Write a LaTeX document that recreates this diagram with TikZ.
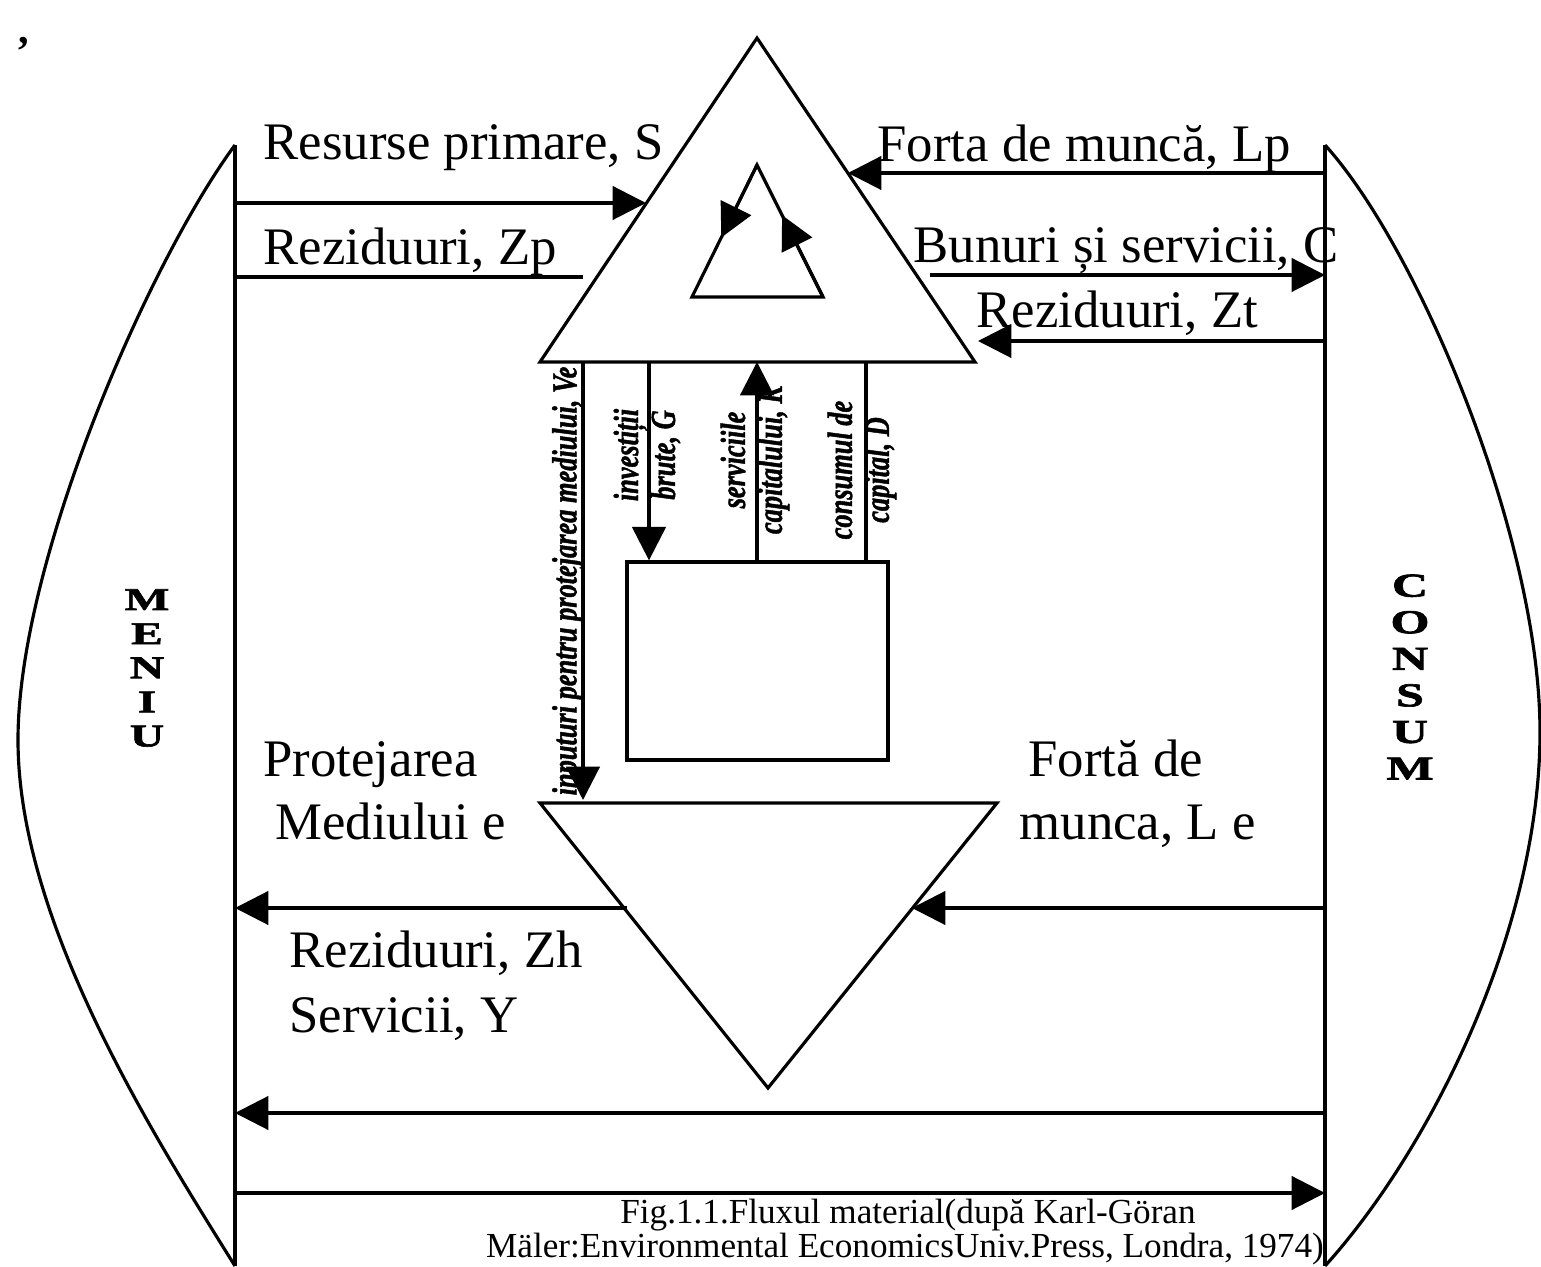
\documentclass[tikz,border=0pt]{standalone}
\usepackage{fontspec}
\setmainfont{Liberation Serif}
\newfontfamily\capfont[FakeStretch=0.75,FakeBold=1.2]{Liberation Serif}
\newfontfamily\sidefont[FakeStretch=1.5,FakeBold=2]{Liberation Serif}
\usetikzlibrary{arrows.meta,calc}

\tikzset{
  tip/.style={-{Triangle[length=9.5pt,width=9.5pt]}},
  lbl/.style={anchor=base west,inner sep=0pt,font=\fontsize{15}{18}\selectfont},
  vlbl/.style={rotate=90,align=center,inner sep=0pt,font=\capfont\bfseries\itshape\fontsize{10}{10.5}\selectfont},
  side/.style={align=center,inner sep=0pt},
  note/.style={anchor=base,inner sep=0pt,font=\fontsize{10}{11.5}\selectfont},
}

\begin{document}
\begin{tikzpicture}[x=0.01cm,y=-0.01cm,line width=0.9pt]
   \useasboundingbox (0,0) rectangle (1541,1267);

   \coordinate (MTop) at (235,145);
   \coordinate (MBot) at (235,1266);
   \coordinate (CTop) at (1325,145);
   \coordinate (CBot) at (1325,1266);

   \coordinate (PTop) at (757,38);
   \coordinate (PL) at (540,362);
   \coordinate (PR) at (975,362);

   \coordinate (KTop) at (757,165);
   \coordinate (KL) at (692,297);
   \coordinate (KR) at (823,297);

   \coordinate (HL) at (540,803);
   \coordinate (HR) at (997,803);
   \coordinate (HBot) at (768,1088);

   \node (Stock) at (757.5,661) [draw,minimum width=2.61cm,minimum height=1.98cm] {};

   \node (Meniu) at (147,668) [side,font=\sidefont\bfseries\fontsize{9}{9.7}\selectfont] {M\\E\\N\\I\\U};
   \node (Consum) at (1410,677) [side,font=\sidefont\bfseries\fontsize{9.5}{10.4}\selectfont] {C\\O\\N\\S\\U\\M};

   \node (Comma) at (24,44) [anchor=base,inner sep=0pt,font=\bfseries\fontsize{12}{14}\selectfont] {,};

   \draw (MTop) .. controls (150,260) and (18,560) .. (18,740) .. controls (18,920) and (150,1130) .. (MBot);
   \draw (CTop) .. controls (1420,250) and (1540,540) .. (1540,732) .. controls (1540,930) and (1430,1150) .. (CBot);
   \draw (MTop) -- (MBot);
   \draw (CTop) -- (CBot);

   \draw (PTop) -- (PL) -- (PR) -- cycle;
   \draw (KTop) -- (KL) -- (KR) -- cycle;
   \draw (HL) -- (HR) -- (HBot) -- cycle;
   \draw [tip] (KTop) -- ($(KTop)!0.55!(KL)$);
   \draw [tip] (KR) -- ($(KR)!0.62!(KTop)$);

   \coordinate (Ve) at (583,362);
   \coordinate (Ve1) at (583,800);
   \coordinate (G) at (649,362);
   \coordinate (K) at (757,362);
   \coordinate (D) at (866,362);
   \draw [tip] (Ve) -- (Ve1);
   \draw [tip] (G) -- (G |- Stock.north);
   \draw [tip] (K |- Stock.north) -- (K);
   \draw [] (D) -- (D |- Stock.north);

   \coordinate (S0) at (235,203);
   \coordinate (S1) at (646,203);
   \coordinate (Zp0) at (235,277);
   \coordinate (Zp1) at (583,277);
   \coordinate (Lp0) at (1325,173);
   \coordinate (Lp1) at (848,173);
   \coordinate (C0) at (930,275);
   \coordinate (C1) at (1325,275);
   \coordinate (Zt0) at (1325,341);
   \coordinate (Zt1) at (978,341);
   \coordinate (Zh0) at (627,908);
   \coordinate (Zh1) at (235,908);
   \coordinate (Le0) at (1325,908);
   \coordinate (Le1) at (912,908);
   \coordinate (Y0) at (1325,1113);
   \coordinate (Y1) at (235,1113);
   \coordinate (B0) at (235,1193);
   \coordinate (B1) at (1325,1193);

   \draw [tip] (S0) -- (S1);
   \draw [] (Zp0) -- (Zp1);
   \draw [tip] (Lp0) -- (Lp1);
   \draw [tip] (C0) -- (C1);
   \draw [tip] (Zt0) -- (Zt1);
   \draw [tip] (Zh0) -- (Zh1);
   \draw [tip] (Le0) -- (Le1);
   \draw [tip] (Y0) -- (Y1);
   \draw [tip] (B0) -- (B1);

   \node (ResS) at (262,160) [lbl] {Resurse primare, S};
   \node (ForLp) at (876,162) [lbl] {Forta de muncă, Lp};
   \node (RezZp) at (262,265) [lbl] {Reziduuri, Zp};
   \node (BunC) at (912,263) [lbl] {Bunuri și servicii, C};
   \node (RezZt) at (975,328) [lbl] {Reziduuri, Zt};
   \node (ProtA) at (262,777) [lbl] {Protejarea};
   \node (ProtB) at (274,840) [lbl] {Mediului e};
   \node (ForA) at (1027,777) [lbl] {Fortă de};
   \node (ForB) at (1018,840) [lbl] {munca, L e};
   \node (RezZh) at (288,968) [lbl] {Reziduuri, Zh};
   \node (ServY) at (288,1033) [lbl] {Servicii, Y};

   \node (VeTxt) at (568,581) [vlbl] {inputuri pentru protejarea mediului, Ve};
   \node (GTxt) at (647,455) [vlbl] {investiții\\brute, G};
   \node (KTxt) at (755,460) [vlbl] {serviciile\\capitalului, K};
   \node (DTxt) at (862,470) [vlbl] {consumul de\\capital, D};

   \node (FigA) at (908,1224) [note] {Fig.1.1.Fluxul material(după Karl-Göran};
   \node (FigB) at (905,1258) [note] {Mäler:Environmental EconomicsUniv.Press, Londra, 1974)};

\end{tikzpicture}
\end{document}
